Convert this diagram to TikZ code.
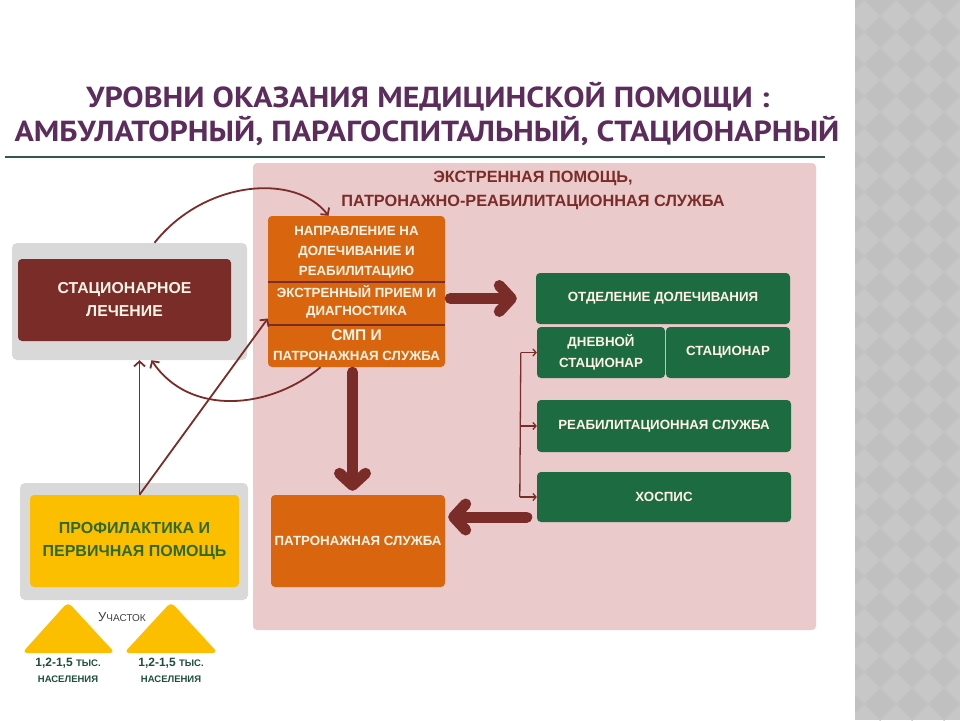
\documentclass[tikz,border=0pt]{standalone}
\usepackage{fontspec}
\setmainfont{Liberation Sans}
\newfontfamily\titlefont{PT Sans}[FakeStretch=1.1]
\usepackage{tikz}
\usetikzlibrary{arrows.meta, calc, positioning}
\definecolor{panelPink}{HTML}{EACACA}
\definecolor{blockOrange}{HTML}{D9660E}
\definecolor{darkBrown}{HTML}{7A2C28}
\definecolor{darkGreen}{HTML}{1D6B40}
\definecolor{primeYellow}{HTML}{FBBF00}
\definecolor{shadeGrey}{HTML}{D9D9D9}
\definecolor{stripGrey}{HTML}{C7C7C7}
\definecolor{stripDark}{HTML}{C0C0C0}
\definecolor{titlePurple}{HTML}{5C2D5C}
\definecolor{oliveText}{HTML}{2F6A24}
\definecolor{tealText}{HTML}{1E4E3E}
\definecolor{creamText}{HTML}{FFF4E6}
\newcommand{\setfs}[2]{\fontsize{#1}{#2}\selectfont}
\tikzset{
    baseBlock/.style={rectangle, rounded corners=4pt, inner sep=0pt, align=center, font=\bfseries\setfs{13.3}{20}},
    greenBlock/.style={baseBlock, fill=darkGreen, text=creamText},
    orangeBlock/.style={baseBlock, fill=blockOrange, text=creamText},
    greyFrame/.style={rectangle, rounded corners=5pt, fill=shadeGrey, inner sep=0pt},
    blockText/.style={inner sep=0pt, align=center, text=creamText, font=\bfseries\setfs{13.3}{20}},
    titleText/.style={inner sep=0pt, anchor=base, text=titlePurple, font=\titlefont\bfseries\setfs{29}{32}},
    divLine/.style={draw=darkBrown, line width=2.5pt},
    medEdge/.style={-{Straight Barb[length=5pt, width=11pt]}, draw=darkBrown, line width=1.8pt},
    smallEdge/.style={-{Straight Barb[length=3pt, width=7pt]}, draw=darkBrown, line width=1.3pt},
    medThick/.style={-{Straight Barb[round, length=12pt, width=26pt]}, draw=darkBrown, line width=11pt, line cap=round},
}
\newcommand{\drawThick}[2]{
    \draw[medThick] (#1) -- (#2);
}

\begin{document}
\begin{tikzpicture}[x=1pt, y=-1pt]
    \useasboundingbox (0,0) rectangle (960,720);
    \fill[white] (0,0) rectangle (960,720);

    % patterned strip on the right
    \fill[stripGrey] (855,0) rectangle (960,720);
    \begin{scope}
        \clip (855,0) rectangle (960,720);
        \foreach \i in {0,...,4}
            \foreach \j in {0,...,23}
                \fill[stripDark] (848+32*\i, 32*\j) +(0,-16) -- +(16,0) -- +(0,16) -- +(-16,0) -- cycle;
    \end{scope}

    % title
    \node[titleText] (title1) at (428,107) {УРОВНИ ОКАЗАНИЯ МЕДИЦИНСКОЙ ПОМОЩИ :};
    \node[titleText] (title2) at (427,141) {АМБУЛАТОРНЫЙ, ПАРАГОСПИТАЛЬНЫЙ, СТАЦИОНАРНЫЙ};
    \draw[draw=tealText!80!gray, line width=1.2pt] (5,157) -- (825,157);

    % pink panel
    \node[rectangle, rounded corners=4pt, fill=panelPink, minimum width=563pt, minimum height=467pt] (panel) at (534.5,396.5) {};
    \node[align=center, inner sep=0pt, text=darkBrown, font=\bfseries\setfs{16.3}{24}] (panelTitle) at (533,190) {ЭКСТРЕННАЯ ПОМОЩЬ,\\ПАТРОНАЖНО-РЕАБИЛИТАЦИОННАЯ СЛУЖБА};

    % orange block with three sections
    \node[orangeBlock, minimum width=177pt, minimum height=151pt] (orng) at (356.5,291.5) {};
    \draw[divLine] ($(orng.north west)+(0,66)$) -- ($(orng.north east)+(0,66)$);
    \draw[divLine] ($(orng.north west)+(0,109)$) -- ($(orng.north east)+(0,109)$);
    \node[blockText] (napr) at (356.5,252) {НАПРАВЛЕНИЕ НА\\ДОЛЕЧИВАНИЕ И\\РЕАБИЛИТАЦИЮ};
    \node[blockText, font=\bfseries\setfs{13.3}{18}] (ekstr) at (356.5,302) {ЭКСТРЕННЫЙ ПРИЕМ И\\ДИАГНОСТИКА};
    \node[blockText] (smp) at (356.5,345) {{\setfs{15.5}{20}СМП И}\\ПАТРОНАЖНАЯ СЛУЖБА};

    \node[orangeBlock, minimum width=174pt, minimum height=92pt] (patr) at (358,541) {ПАТРОНАЖНАЯ СЛУЖБА};

    % green blocks
    \node[greenBlock, minimum width=254pt, minimum height=51pt] (otdel) at (663,298.5) {ОТДЕЛЕНИЕ ДОЛЕЧИВАНИЯ};
    \node[greenBlock, minimum width=128pt, minimum height=51pt, font=\bfseries\setfs{13.3}{21}] (dnev) at (601,352.5) {ДНЕВНОЙ\\СТАЦИОНАР};
    \node[greenBlock, minimum width=124pt, minimum height=51pt] (stac2) at (728,352.5) {СТАЦИОНАР};
    \node[greenBlock, minimum width=254pt, minimum height=52pt] (reab) at (664,426) {РЕАБИЛИТАЦИОННАЯ СЛУЖБА};
    \node[greenBlock, minimum width=254pt, minimum height=50pt] (hosp) at (664,497) {ХОСПИС};

    % left blocks
    \node[greyFrame, minimum width=235pt, minimum height=117pt] (stacBg) at (129.5,301.5) {};
    \node[baseBlock, fill=darkBrown, text=creamText, minimum width=213pt, minimum height=82pt, font=\bfseries\setfs{15.8}{23}] (stac) at (124.5,300) {СТАЦИОНАРНОЕ\\ЛЕЧЕНИЕ};
    \node[greyFrame, minimum width=228pt, minimum height=117pt] (yelBg) at (134,541.5) {};
    \node[baseBlock, fill=primeYellow, text=oliveText, minimum width=209pt, minimum height=92pt, font=\bfseries\setfs{16}{23}] (yel) at (134.5,541) {ПРОФИЛАКТИКА И\\ПЕРВИЧНАЯ ПОМОЩЬ};

    % population triangles
    \fill[primeYellow, rounded corners=5pt] (68,653) -- (115,653) -- (68,602) -- (22,653) -- cycle;
    \fill[primeYellow, rounded corners=5pt] (171,653) -- (218,653) -- (171,602) -- (124,653) -- cycle;
    \node[inner sep=0pt, text=black!75] (uch) at (122,617) {{\setfs{13}{14}У}{\setfs{10}{14}ЧАСТОК}};
    \node[inner sep=0pt, text=tealText, font=\bfseries] (pop1) at (68,663) {{\setfs{12}{14}1,2-1,5 }{\setfs{9.5}{14}ТЫС.}};
    \node[inner sep=0pt, text=tealText, font=\bfseries\setfs{9.5}{12}] (nas1) at (68,679) {НАСЕЛЕНИЯ};
    \node[inner sep=0pt, text=tealText, font=\bfseries] (pop2) at (171,663) {{\setfs{12}{14}1,2-1,5 }{\setfs{9.5}{14}ТЫС.}};
    \node[inner sep=0pt, text=tealText, font=\bfseries\setfs{9.5}{12}] (nas2) at (171,679) {НАСЕЛЕНИЯ};

    % thick arrows
    \coordinate (downTop) at ($(orng.south)+(-4,5)$);
    \drawThick{$(orng.east |- otdel.west)+(5,0)$}{$(otdel.west)+(-19,0)$}
    \drawThick{downTop}{$(downTop |- patr.north)+(0,-4)$}
    \drawThick{$(hosp.west)+(-10,20)$}{$(patr.east)+(3,-24)$}

    % thin connectors
    \coordinate (prof) at ($(yel.north)+(5,0)$);
    \draw[medEdge] (prof) -- (prof |- stacBg.south);
    \draw[medEdge] (prof) -- ($(orng.west)+(0,27)$);
    \draw[medEdge] ($(stacBg.north)+(25,0)$) .. controls +(50,-63) and +(-33,-43) .. ($(orng.north)+(-28,0)$);
    \draw[medEdge] ($(orng.south)+(-36,0)$) .. controls +(-50,42) and +(38,57) .. ($(stacBg.south)+(22,0)$);

    % bracket to the green blocks
    \coordinate (brkTop) at ($(dnev.west)+(-16,0)$);
    \coordinate (brkBot) at ($(hosp.west)+(-17,0)$);
    \draw[draw=darkBrown, line width=1.3pt] (brkTop) -- (brkBot);
    \draw[smallEdge] (brkTop) -- (dnev.west);
    \draw[smallEdge] (brkTop |- reab.west) -- (reab.west);
    \draw[smallEdge] (brkBot) -- (hosp.west);
\end{tikzpicture}
\end{document}
